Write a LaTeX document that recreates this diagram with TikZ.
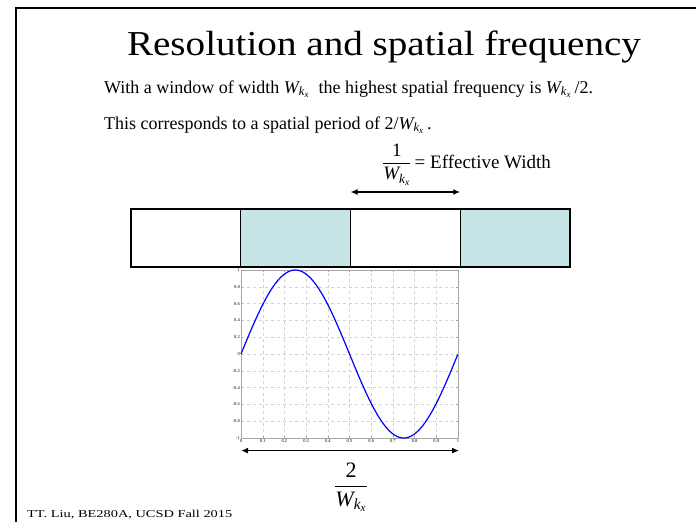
\documentclass[tikz,border=0pt]{standalone}
\usepackage{amsmath}
\usepackage{fontspec}
\setmainfont{Liberation Serif}
\usetikzlibrary{arrows.meta,positioning,calc}
\definecolor{cellfill}{RGB}{197,229,231}
\newcommand{\Wkx}{\ensuremath{\textit{W}_{\textit{k}_{\textit{x}}}}}

\begin{document}
\begin{tikzpicture}[
        x=1pt, y=-1pt,
        font=\fontsize{18}{21}\selectfont,
        cell/.style={rectangle, draw=black, line width=1.1pt,
          minimum width=109.75pt, minimum height=58pt, inner sep=0pt, outer sep=0pt},
        cellshade/.style={cell, fill=cellfill},
        span/.style={{Latex[length=7pt,width=6pt]}-{Latex[length=7pt,width=6pt]}, line width=1.4pt},
        gridline/.style={gray!35, dashed, line width=0.4pt},
        ticklab/.style={font=\fontsize{4.5}{5}\selectfont, inner sep=1pt}
      ]
        \useasboundingbox (0,0) rectangle (696,522);
        \draw[line width=2pt] (16,522) -- (16,8) -- (696,8);
        \node[font=\fontsize{35}{40}\selectfont, anchor=base, inner sep=0pt] (title) at (384,55)
          {\scalebox{1.118}[1]{Resolution and spatial frequency}};
        \node[anchor=base west, inner sep=0pt] (line1) at (104,93)
          {With a window of width \Wkx\ \ the highest spatial frequency is \Wkx\,/2.};
        \node[anchor=base west, inner sep=0pt] (line2) at (104,129)
          {This corresponds to a spatial period of 2/\Wkx\,.};
        \node[anchor=base west, inner sep=0pt, font=\fontsize{19}{22}\selectfont] (effw) at (382,168)
          {$\dfrac{\text{1}}{\Wkx}$\,= Effective Width};
        % window cells
        \node[cell, anchor=north west] (c1) at (131,209) {};
        \node[cellshade, right=0pt of c1] (c2) {};
        \node[cell, right=0pt of c2] (c3) {};
        \node[cellshade, right=0pt of c3] (c4) {};
        \coordinate (a1) at ($(c3.north west)+(0,-17)$);
        \coordinate (a2) at ($(c3.north east)+(0,-17)$);
        \draw[span] (a1) -- (a2);
        % sine plot
        \begin{scope}[shift={(241,354)}, x=217pt, y=84pt]
          \foreach \i in {1,...,9}
            \draw[gridline] (\i/10,-1) -- (\i/10,1);
          \foreach \j in {-4,...,4}
            \draw[gridline] (0,\j/5) -- (1,\j/5);
          \foreach \i in {0,...,10} {
            \draw[gray!70, line width=0.4pt] (\i/10,-1) -- ++(0,0.025);
            \draw[gray!70, line width=0.4pt] (\i/10,1) -- ++(0,-0.025);
          }
          \foreach \j in {-5,...,5} {
            \draw[gray!70, line width=0.4pt] (0,\j/5) -- ++(0.01,0);
            \draw[gray!70, line width=0.4pt] (1,\j/5) -- ++(-0.01,0);
          }
          \draw[gray!70, line width=0.5pt] (0,-1) rectangle (1,1);
          \foreach \i/\lab in {0/0,1/0.1,2/0.2,3/0.3,4/0.4,5/0.5,6/0.6,7/0.7,8/0.8,9/0.9,10/1}
            \node[ticklab, below] at (\i/10,-1) {\lab};
          \foreach \j/\lab in {-5/-1,-4/-0.8,-3/-0.6,-2/-0.4,-1/-0.2,0/0,1/0.2,2/0.4,3/0.6,4/0.8,5/1}
            \node[ticklab, left] at (0,\j/5) {\lab};
          \draw[blue, line width=1.2pt, domain=0:1, samples=120, smooth]
            plot (\x, {sin(360*\x)});
          \coordinate (p1) at (0,-1.15);
          \coordinate (p2) at (1.005,-1.15);
        \end{scope}
        \draw[span] (p1) -- (p2);
        \node[anchor=base, font=\fontsize{22}{26}\selectfont] (period) at (351,492)
          {$\dfrac{\text{2}}{\Wkx}$};
        \node[anchor=base west, inner sep=0pt, font=\fontsize{10.5}{12}\selectfont] (footer) at (27,517)
          {\scalebox{1.37}[1]{TT. Liu, BE280A, UCSD Fall 2015}};
      \end{tikzpicture}
\end{document}
